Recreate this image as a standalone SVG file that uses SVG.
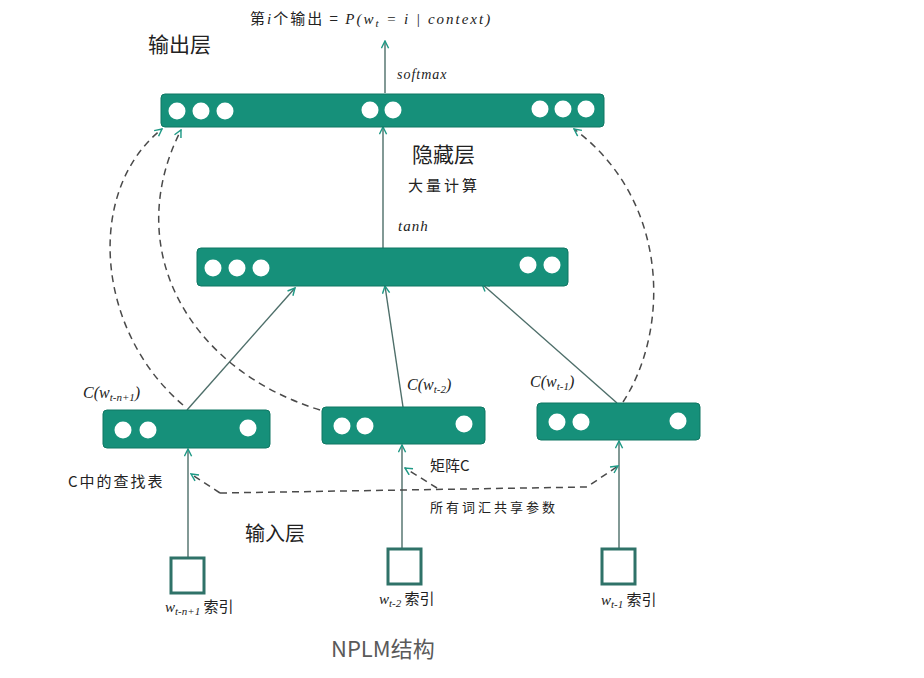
<svg xmlns="http://www.w3.org/2000/svg" width="924" height="678" viewBox="0 0 924 678">
<defs>
<style>
.bar{fill:#16907a;stroke:#0f7763;stroke-width:1}
.dot{fill:#ffffff}
.sq{fill:#ffffff;stroke:#2f7268;stroke-width:3}
.solid{fill:none;stroke:#4d6e69;stroke-width:1.4}
.dash{fill:none;stroke:#4a4a4a;stroke-width:1.5;stroke-dasharray:7 5}
.cjk{font-family:"Noto Sans CJK SC","Noto Sans",sans-serif;fill:#222}
.big{font-size:21px}
.math{font-family:"Liberation Serif",serif;font-style:italic;fill:#222}
.sub{font-size:11px}
</style>
<marker id="arr" viewBox="0 0 10 10" refX="9" refY="5" markerWidth="9" markerHeight="9" markerUnits="userSpaceOnUse" orient="auto">
<path d="M1,1 L9,5 L1,9" fill="none" stroke="#1f9a86" stroke-width="1.6" stroke-dasharray="none"/>
</marker>
</defs>
<rect width="924" height="678" fill="#ffffff"/>

<g id="connectors">
<line class="solid" x1="385" y1="93" x2="385" y2="41" marker-end="url(#arr)"/>
<line class="solid" x1="383" y1="248" x2="383" y2="127" marker-end="url(#arr)"/>
<line class="solid" x1="187" y1="410" x2="295" y2="288" marker-end="url(#arr)"/>
<line class="solid" x1="403" y1="407" x2="385" y2="286" marker-end="url(#arr)"/>
<line class="solid" x1="617" y1="403" x2="482" y2="284" marker-end="url(#arr)"/>
<line class="solid" x1="188" y1="558" x2="188" y2="449" marker-end="url(#arr)"/>
<line class="solid" x1="402" y1="549" x2="402" y2="445" marker-end="url(#arr)"/>
<line class="solid" x1="619" y1="549" x2="619" y2="441" marker-end="url(#arr)"/>
<path class="dash" d="M183,405 C95,330 85,190 162,129" marker-end="url(#arr)"/>
<path class="dash" d="M320,410 C190,370 120,250 181,130" marker-end="url(#arr)"/>
<path class="dash" d="M623,402 C670,330 670,200 574,129" marker-end="url(#arr)"/>
<path class="dash" d="M220,493 L587,487 L618,466" marker-end="url(#arr)"/>
<line class="dash" x1="220" y1="493" x2="191" y2="474" marker-end="url(#arr)"/>
<line class="dash" x1="437" y1="488" x2="405" y2="468" marker-end="url(#arr)"/>
</g>

<g id="output-layer">
<rect class="bar" x="161" y="94" width="443" height="33" rx="4"/>
<circle class="dot" cx="177" cy="111" r="8.5"/>
<circle class="dot" cx="201" cy="111" r="8.5"/>
<circle class="dot" cx="225" cy="111" r="8.5"/>
<circle class="dot" cx="370" cy="110" r="8.5"/>
<circle class="dot" cx="393" cy="110" r="8.5"/>
<circle class="dot" cx="540" cy="109" r="8.5"/>
<circle class="dot" cx="563" cy="109" r="8.5"/>
<circle class="dot" cx="586" cy="109" r="8.5"/>
</g>

<g id="hidden-layer">
<rect class="bar" x="197" y="248" width="371" height="38" rx="4"/>
<circle class="dot" cx="213" cy="268" r="8.5"/>
<circle class="dot" cx="237" cy="268" r="8.5"/>
<circle class="dot" cx="261" cy="268" r="8.5"/>
<circle class="dot" cx="528" cy="265" r="8.5"/>
<circle class="dot" cx="552" cy="265" r="8.5"/>
</g>

<g id="embed-1">
<rect class="bar" x="103" y="410" width="167" height="38" rx="4"/>
<circle class="dot" cx="123" cy="430" r="8.5"/>
<circle class="dot" cx="148" cy="430" r="8.5"/>
<circle class="dot" cx="248" cy="428" r="8.5"/>
</g>

<g id="embed-2">
<rect class="bar" x="322" y="407" width="163" height="37" rx="4"/>
<circle class="dot" cx="342" cy="426" r="8.5"/>
<circle class="dot" cx="365" cy="426" r="8.5"/>
<circle class="dot" cx="464" cy="424" r="8.5"/>
</g>

<g id="embed-3">
<rect class="bar" x="537" y="403" width="163" height="37" rx="4"/>
<circle class="dot" cx="557" cy="422" r="8.5"/>
<circle class="dot" cx="581" cy="422" r="8.5"/>
<circle class="dot" cx="678" cy="421" r="8.5"/>
</g>

<g id="input-1"><rect class="sq" x="171" y="558" width="33" height="35"/></g>
<g id="input-2"><rect class="sq" x="388" y="549" width="33" height="35"/></g>
<g id="input-3"><rect class="sq" x="602" y="549" width="33" height="35"/></g>

<g id="labels">
<text x="250" y="24" font-size="15" letter-spacing="2"><tspan class="cjk">第</tspan><tspan class="math">i</tspan><tspan class="cjk">个输出 = </tspan><tspan class="math">P</tspan><tspan class="math">(w</tspan><tspan class="math sub" dy="3">t</tspan><tspan class="math" dy="-3"> = i | context)</tspan></text>
<text class="cjk big" x="148" y="52">输出层</text>
<text class="math" x="397" y="79" font-size="14" letter-spacing="1">softmax</text>
<text class="cjk big" x="412" y="162">隐藏层</text>
<text class="cjk" x="408" y="191" font-size="15" letter-spacing="3">大量计算</text>
<text class="math" x="398" y="231" font-size="15" letter-spacing="1">tanh</text>
<text class="math" x="83" y="398" font-size="16">C(w<tspan class="sub" dy="3">t-n+1</tspan><tspan dy="-3">)</tspan></text>
<text class="math" x="407" y="390" font-size="16">C(w<tspan class="sub" dy="3">t-2</tspan><tspan dy="-3">)</tspan></text>
<text class="math" x="530" y="387" font-size="16">C(w<tspan class="sub" dy="3">t-1</tspan><tspan dy="-3">)</tspan></text>
<text class="cjk" x="68" y="487" font-size="15" letter-spacing="2">C中的查找表</text>
<text class="cjk" x="430" y="471" font-size="15">矩阵C</text>
<text class="cjk" x="430" y="512" font-size="13" letter-spacing="3">所有词汇共享参数</text>
<text class="cjk" x="245" y="541" font-size="20">输入层</text>
<text x="165" y="612" font-size="15"><tspan class="math">w</tspan><tspan class="math sub" dy="3">t-n+1</tspan><tspan class="cjk" dy="-3"> 索引</tspan></text>
<text x="379" y="604" font-size="15"><tspan class="math">w</tspan><tspan class="math sub" dy="3">t-2</tspan><tspan class="cjk" dy="-3"> 索引</tspan></text>
<text x="601" y="605" font-size="15"><tspan class="math">w</tspan><tspan class="math sub" dy="3">t-1</tspan><tspan class="cjk" dy="-3"> 索引</tspan></text>
<text x="331" y="657" font-size="22" font-family="'Noto Sans CJK SC','Noto Sans',sans-serif" fill="#5a5a5a">NPLM结构</text>
</g>
</svg>
